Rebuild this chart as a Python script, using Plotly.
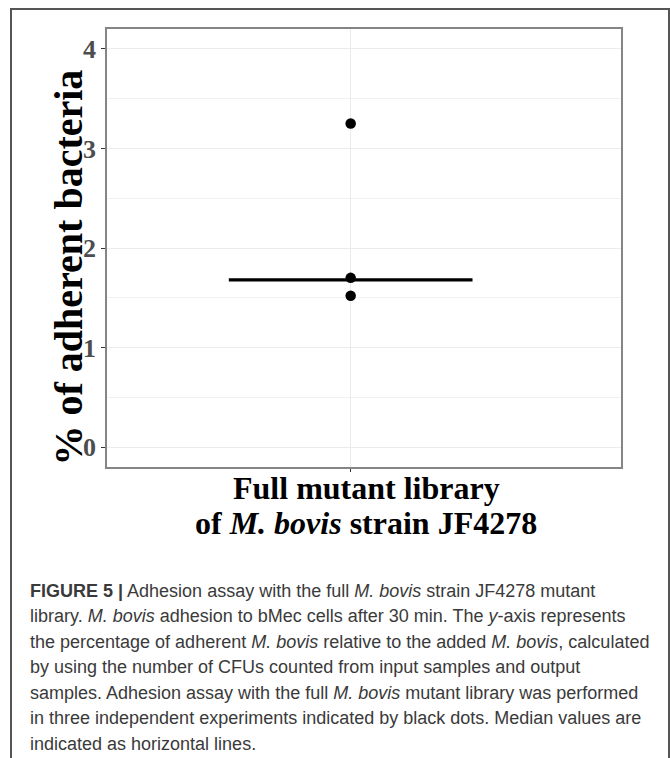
import plotly.graph_objects as go

# ---- data ----
CATEGORY = "Full mutant library of M. bovis strain JF4278"
VALUES = [3.25, 1.70, 1.52]          # three independent experiments
MEDIAN = [1.68]                      # median line as drawn
Y_TICKS = [0, 1, 2, 3, 4]
Y_TICK_LABELS = ["0", "1", "2", "3", "4"]
Y_TITLE = "% of adherent bacteria"
X_TITLE_LINES = ["Full mutant library", "of <i>M. bovis</i> strain JF4278"]
CAPTION_LINES = [
    "<b>FIGURE 5 |</b> Adhesion assay with the full <i>M. bovis</i> strain JF4278 mutant",
    "library. <i>M. bovis</i> adhesion to bMec cells after 30 min. The <i>y</i>-axis represents",
    "the percentage of adherent <i>M. bovis</i> relative to the added <i>M. bovis</i>, calculated",
    "by using the number of CFUs counted from input samples and output",
    "samples. Adhesion assay with the full <i>M. bovis</i> mutant library was performed",
    "in three independent experiments indicated by black dots. Median values are",
    "indicated as horizontal lines.",
]

# ---- layout geometry (pixels) ----
W, H = 670, 758
L, R, T, B = 107, 621, 29, 467
PW, PH = R - L, B - T


def px(x):
    return (x - L) / PW


def py(y):
    return (B - y) / PH


SERIF = "Liberation Serif, Times New Roman, serif"
SANS = "Liberation Sans, Arial, sans-serif"

xpos = 1
fig = go.Figure()

# median line
fig.add_trace(go.Scatter(
    x=[xpos - 0.3, xpos + 0.3], y=[MEDIAN[0], MEDIAN[0]],
    mode="lines", line=dict(color="black", width=3.2),
    hoverinfo="skip", showlegend=False))

# points
fig.add_trace(go.Scatter(
    x=[xpos] * len(VALUES), y=VALUES, mode="markers",
    marker=dict(color="black", size=10.5),
    name=CATEGORY, showlegend=False))

annotations = []
# y-axis title
annotations.append(dict(
    text="<b>" + Y_TITLE + "</b>", xref="paper", yref="paper",
    x=px(67.5), y=py(268), xanchor="center", yanchor="middle",
    textangle=-90, showarrow=False,
    font=dict(family=SERIF, size=40, color="black")))
# x-axis title (two lines)
for i, (line, cy) in enumerate(zip(X_TITLE_LINES, [488, 523])):
    annotations.append(dict(
        text="<b>" + line + "</b>", xref="paper", yref="paper",
        x=px(366), y=py(cy), xanchor="center", yanchor="middle",
        showarrow=False, font=dict(family=SERIF, size=32, color="black")))
# caption
for i, line in enumerate(CAPTION_LINES):
    baseline = 597 + i * 25.5
    annotations.append(dict(
        text=line, xref="paper", yref="paper",
        x=px(28), y=py(baseline - 6.2), xanchor="left", yanchor="middle",
        showarrow=False, font=dict(family=SANS, size=18, color="#3a3a3a")))

shapes = [
    # outer frame
    dict(type="rect", xref="paper", yref="paper",
         x0=px(11), x1=px(669), y0=py(9), y1=py(790),
         line=dict(color="#555555", width=2), fillcolor="rgba(0,0,0,0)",
         layer="above"),
]

fig.update_layout(
    width=W, height=H,
    margin=dict(l=L, r=W - R, t=T, b=H - B, pad=0),
    paper_bgcolor="white", plot_bgcolor="white",
    showlegend=False,
    annotations=annotations,
    shapes=shapes,
    xaxis=dict(
        range=[0.4, 1.6656], tickvals=[xpos], ticktext=[""],
        showgrid=True, gridcolor="#ebebeb", gridwidth=1,
        zeroline=False, showline=True, linecolor="#858585", linewidth=1.5,
        mirror=True, ticks="outside", ticklen=3, tickcolor="#333333",
        tickwidth=1, fixedrange=True),
    yaxis=dict(
        range=[-0.2, 4.2], tickvals=Y_TICKS, ticktext=Y_TICK_LABELS,
        showgrid=True, gridcolor="#ebebeb", gridwidth=1,
        minor=dict(dtick=0.5, tick0=0, showgrid=True, gridcolor="#f1f1f1",
                   gridwidth=1, ticks=""),
        zeroline=False, showline=True, linecolor="#858585", linewidth=1.5,
        mirror=True, ticks="outside", ticklen=4, tickcolor="#333333",
        tickwidth=1,
        tickfont=dict(family=SERIF, size=26, color="#4d4d4d", weight="bold"),
        fixedrange=True),
)

fig.write_html("out.html")
